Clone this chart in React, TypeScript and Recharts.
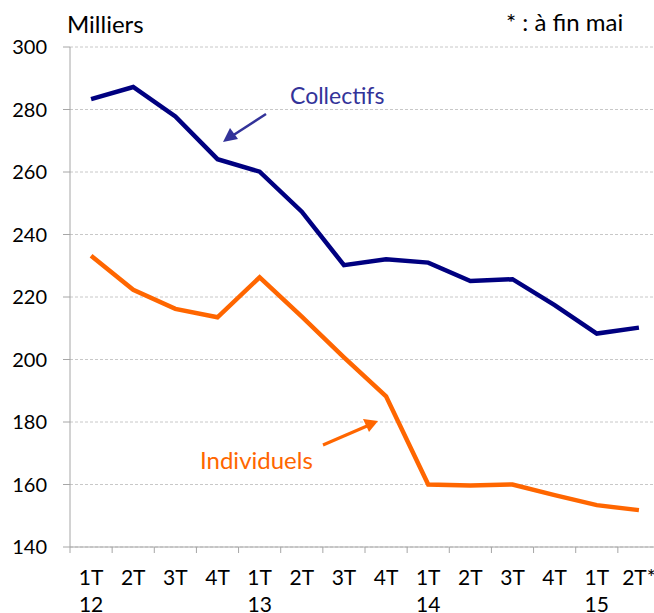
import { CartesianGrid, Line, LineChart, XAxis, YAxis } from "recharts";

const quarters = ["1T", "2T", "3T", "4T", "1T", "2T", "3T", "4T", "1T", "2T", "3T", "4T", "1T", "2T*"];
const years = ["12", "", "", "", "13", "", "", "", "14", "", "", "", "15", ""];
const collectifs = [283.3, 287.2, 277.8, 264.1, 260.1, 247.3, 230.2, 232.1, 231.0, 225.1, 225.7, 217.4, 208.3, 210.2];
const individuels = [233.2, 222.3, 216.2, 213.5, 226.3, 213.7, 200.7, 188.2, 160.0, 159.7, 160.0, 156.6, 153.4, 151.8];
const yTicks = [140, 160, 180, 200, 220, 240, 260, 280, 300];

const data = quarters.map((q, i) => ({
  key: i,
  quarter: q,
  year: years[i],
  collectifs: collectifs[i],
  individuels: individuels[i],
}));

const FONT = "Lato, 'DejaVu Sans', sans-serif";
const CHART_W = 670;
const CHART_H = 613;
const MARGIN = { top: 47, right: 10, bottom: 0, left: 0 };
const Y_AXIS_W = 70;
const bandW = (CHART_W - MARGIN.left - MARGIN.right - Y_AXIS_W) / quarters.length;
const axisGrey = "#a6a6a6";

function QuarterTick(props: any) {
  const { x, y, payload } = props;
  const i = payload.value as number;
  const edge = x - bandW / 2;
  return (
    <g>
      <line x1={edge} y1={y} x2={edge} y2={y + 6} stroke={axisGrey} strokeWidth={1} />
      {i === quarters.length - 1 && (
        <line x1={edge + bandW} y1={y} x2={edge + bandW} y2={y + 6} stroke={axisGrey} strokeWidth={1} />
      )}
      <text x={x} y={y + 38} textAnchor="middle" fontSize={21} fill="#000" fontFamily={FONT}>
        {quarters[i]}
      </text>
      {years[i] && (
        <text x={x} y={y + 65} textAnchor="middle" fontSize={21} fill="#000" fontFamily={FONT}>
          {years[i]}
        </text>
      )}
    </g>
  );
}

export default function App() {
  return (
    <div
      style={{
        position: "absolute",
        left: 0,
        top: 0,
        width: 654,
        height: 613,
        overflow: "hidden",
        background: "#fff",
        fontFamily: FONT,
      }}
    >
      <LineChart width={CHART_W} height={CHART_H} data={data} margin={MARGIN}>
        <CartesianGrid vertical={false} stroke="#c8c8c8" strokeDasharray="3 2" />
        <XAxis
          dataKey="key"
          scale="band"
          height={66}
          interval={0}
          tickLine={false}
          tickSize={0}
          tickMargin={0}
          axisLine={{ stroke: axisGrey }}
          tick={<QuarterTick />}
        />
        <YAxis
          width={Y_AXIS_W}
          domain={[140, 300]}
          ticks={yTicks}
          interval={0}
          tickSize={7}
          tickMargin={16}
          axisLine={{ stroke: axisGrey }}
          tickLine={{ stroke: axisGrey }}
          tick={{ fontSize: 20, fill: "#000", fontFamily: FONT }}
        />
        <Line
          dataKey="collectifs"
          stroke="#000080"
          strokeWidth={4.5}
          dot={false}
          isAnimationActive={false}
        />
        <Line
          dataKey="individuels"
          stroke="#ff6600"
          strokeWidth={4.5}
          dot={false}
          isAnimationActive={false}
        />
      </LineChart>
      <svg
        width={654}
        height={613}
        style={{ position: "absolute", left: 0, top: 0, pointerEvents: "none" }}
      >
        <text x={67} y={33} fontSize={24} fill="#000" fontFamily={FONT}>
          Milliers
        </text>
        <text x={506} y={31} fontSize={24} fill="#000" fontFamily={FONT}>
          * : à fin mai
        </text>
        <text x={290} y={104} fontSize={23} fill="#333399" fontFamily={FONT}>
          Collectifs
        </text>
        <line x1={266} y1={114} x2={232} y2={136} stroke="#333399" strokeWidth={2.5} />
        <polygon points="223,142 230,128 238,139" fill="#333399" />
        <text x={200} y={469} fontSize={24} fill="#ff6600" fontFamily={FONT}>
          Individuels
        </text>
        <line x1={323} y1={445} x2={367} y2={426} stroke="#ff6600" strokeWidth={3} />
        <polygon points="378,421 363,419 369,432" fill="#ff6600" />
      </svg>
    </div>
  );
}
